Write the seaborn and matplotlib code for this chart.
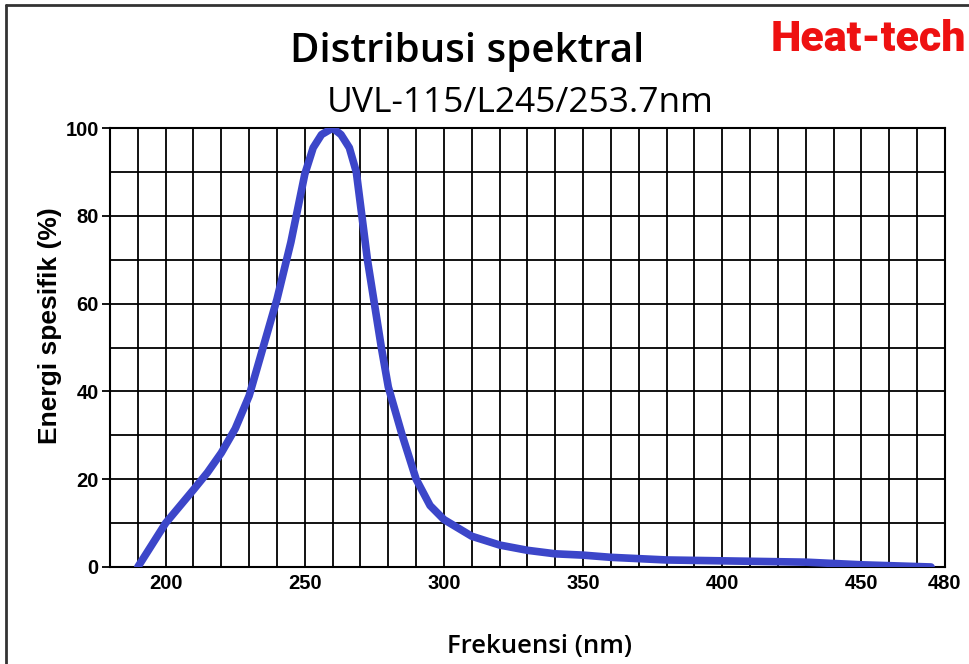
import numpy as np
import pandas as pd
import matplotlib
matplotlib.use("Agg")
import matplotlib.pyplot as plt
import seaborn as sns
from matplotlib.ticker import MultipleLocator
from matplotlib.lines import Line2D

# spectrum
wavelength = [190, 195, 200, 205, 210, 215, 220, 225, 230, 235, 240, 245, 250,
              253, 256, 260, 263, 266, 268.5, 270.5, 272.5, 275, 277.5, 280,
              285, 290, 295, 300, 310, 320, 330, 340, 350, 360, 380,
              400, 420, 430, 440, 450, 460, 475]
energy = [0, 5, 10, 13.8, 17.6, 21.5, 26, 31.5, 39, 50, 61, 74, 89.5,
          95.5, 98.5, 100, 98.5, 95.5, 90, 80, 70, 60, 50, 41,
          30, 20, 14, 10.8, 7, 5, 3.8, 3, 2.7, 2.2, 1.6,
          1.4, 1.2, 1.1, 0.8, 0.5, 0.3, 0]

x_ticks = [200, 250, 300, 350, 400, 450, 480]
y_ticks = [0, 20, 40, 60, 80, 100]

df = pd.DataFrame({"nm": wavelength, "energi": energy})

sns.set_style("white")
plt.rcParams["font.family"] = ["Liberation Sans", "DejaVu Sans"]
plt.rcParams["text.color"] = "black"
plt.rcParams["xtick.color"] = "black"
plt.rcParams["ytick.color"] = "black"

fig = plt.figure(figsize=(9.69, 6.64), dpi=100)
ax = fig.add_axes([0.1135, 0.1461, 0.8617, 0.6611])

sns.lineplot(data=df, x="nm", y="energi", ax=ax, color="#3c46c9",
             linewidth=5.5, solid_capstyle="round", solid_joinstyle="round",
             zorder=3)

ax.set_xlim(180, 480)
ax.set_ylim(0, 100)
ax.set_xticks(x_ticks)
ax.set_xticklabels([str(t) for t in x_ticks])
ax.set_yticks(y_ticks)
ax.xaxis.set_minor_locator(MultipleLocator(10))
ax.yaxis.set_minor_locator(MultipleLocator(10))
ax.grid(True, which="both", color="black", linewidth=1.3)
ax.set_axisbelow(True)
for s in ax.spines.values():
    s.set_color("black")
    s.set_linewidth(1.5)

ax.tick_params(axis="x", which="both", length=0, pad=5, labelsize=14.5,
               labelcolor="black")
ax.tick_params(axis="y", which="major", length=6, width=1.3, color="black",
               left=True, pad=2, labelsize=14.5, labelcolor="black")
ax.tick_params(axis="y", which="minor", length=0)
for lab in ax.get_xticklabels() + ax.get_yticklabels():
    lab.set_fontweight("bold")
ax.set_xlabel("")
ax.set_ylabel("")

fig.text(0.482, 0.921, "Distribusi spektral", ha="center", va="center",
         fontsize=29, fontweight="semibold", color="black",
         family=["Open Sans", "DejaVu Sans"])
fig.text(0.537, 0.845, "UVL-115/L245/253.7nm", ha="center", va="center",
         fontsize=25.5, color="black", family=["Open Sans", "DejaVu Sans"])
fig.text(0.896, 0.941, "Heat-tech", ha="center", va="center", color="#ee1111",
         fontsize=31, fontweight="heavy", family=["Roboto", "DejaVu Sans"])
fig.text(0.0516, 0.509, "Energi spesifik (%)", ha="center", va="center",
         rotation=90, fontsize=19, fontweight="bold", color="black")
fig.text(0.557, 0.026, "Frekuensi (nm)", ha="center", va="center",
         fontsize=18.5, fontweight="semibold", color="black",
         family=["Open Sans", "DejaVu Sans"])

# frame around the picture (left and top edges visible)
fig.add_artist(Line2D([0.006, 0.006], [0, 0.992], color="#333333", linewidth=2,
                      transform=fig.transFigure))
fig.add_artist(Line2D([0.006, 1.0], [0.992, 0.992], color="#333333", linewidth=2,
                      transform=fig.transFigure))

fig.savefig("out.png", dpi=100, facecolor="white")
